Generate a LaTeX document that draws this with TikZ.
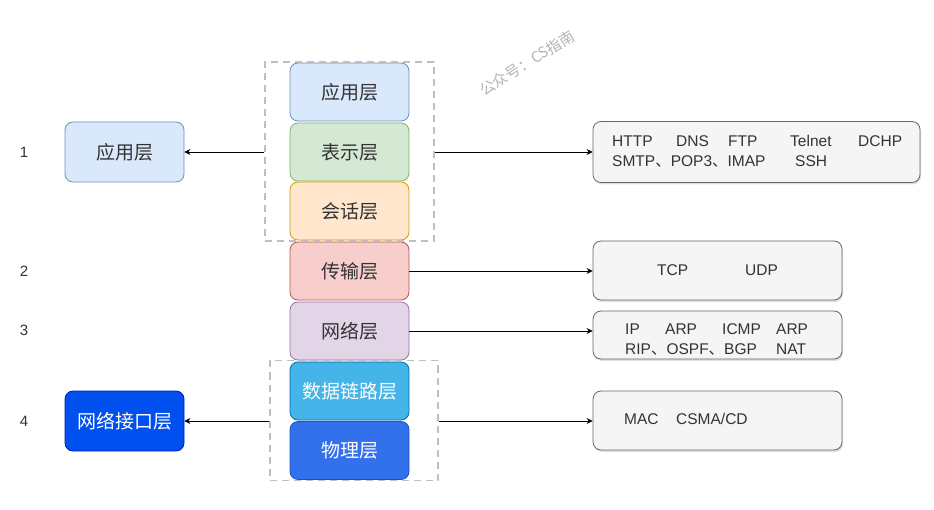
\documentclass[tikz,border=0pt]{standalone}
\usepackage{fontspec}
\setmainfont{Liberation Sans}
\newfontfamily\cjk{Noto Sans CJK SC}
\usetikzlibrary{arrows.meta,shadows}
\definecolor{txt}{HTML}{333333}
\definecolor{appF}{HTML}{DAE8FC}\definecolor{appD}{HTML}{6C8EBF}
\definecolor{preF}{HTML}{D5E8D4}\definecolor{preD}{HTML}{82B366}
\definecolor{sesF}{HTML}{FFE6CC}\definecolor{sesD}{HTML}{D79B00}
\definecolor{traF}{HTML}{F8CECC}\definecolor{traD}{HTML}{B85450}
\definecolor{netF}{HTML}{E1D5E7}\definecolor{netD}{HTML}{9673A6}
\definecolor{dlF}{HTML}{45B4E8}\definecolor{dlD}{HTML}{006EAF}
\definecolor{phyF}{HTML}{3270EC}\definecolor{phyD}{HTML}{1E50C8}
\definecolor{niF}{HTML}{0050EF}\definecolor{niD}{HTML}{001DBC}
\definecolor{prF}{HTML}{F5F5F5}\definecolor{prD}{HTML}{666666}
\tikzset{
  layer/.style={draw=#1, rounded corners=8pt, line width=0.8pt, minimum width=119pt, minimum height=58pt, inner sep=0pt, font=\cjk\fontsize{19}{21}\selectfont, text=txt},
  proto/.style={draw=prD, fill=prF, rounded corners=8pt, line width=0.8pt, inner sep=0pt, drop shadow={shadow xshift=1pt, shadow yshift=-2pt, opacity=0.25}},
  ptxt/.style={anchor=base west, inner sep=0pt, font=\fontsize{15.5}{17}\selectfont, text=txt},
  group/.style={draw=black!25, dash pattern=on 7pt off 5pt, line width=1.5pt},
  arr/.style={-{Stealth[length=6pt,width=6pt,inset=2pt]}, line width=0.7pt},
  num/.style={font=\fontsize{15}{17}\selectfont, inner sep=0pt, text=txt}
}
\begin{document}
\begin{tikzpicture}[x=1pt,y=-1pt]
\useasboundingbox (0,0) rectangle (934,510);
% middle stack
\node[layer=appD, fill=appF] (app) at (349.5,92) {应用层};
\node[layer=preD, fill=preF] (pres) at (349.5,152) {表示层};
\node[layer=sesD, fill=sesF] (sess) at (349.5,211) {会话层};
\node[layer=traD, fill=traF] (trans) at (349.5,271) {传输层};
\node[layer=netD, fill=netF] (net) at (349.5,331) {网络层};
\node[layer=dlD, fill=dlF, text=white] (dl) at (349.5,391) {数据链路层};
\node[layer=phyD, fill=phyF, text=white] (phy) at (349.5,450.5) {物理层};
% dashed groups
\node[group, minimum width=169pt, minimum height=179pt, inner sep=0pt] (g1) at (349.5,151.5) {};
\node[group, minimum width=168pt, minimum height=120pt, inner sep=0pt] (g2) at (354,420.5) {};
% left boxes
\node[layer=appD, fill=appF, minimum height=60pt] (lapp) at (124.5,152) {应用层};
\node[layer=niD, fill=niF, text=white, minimum height=60pt] (lnet) at (124.5,421) {网络接口层};
% numbers
\node[num] (n1) at (24,152) {1};
\node[num] (n2) at (24,271) {2};
\node[num] (n3) at (24,330) {3};
\node[num] (n4) at (24,421) {4};
% right boxes
\node[proto, minimum width=327pt, minimum height=61pt] (r1) at (756.5,152) {};
\node[proto, minimum width=249pt, minimum height=59pt] (r2) at (717.5,270.5) {};
\node[proto, minimum width=249pt, minimum height=48pt] (r3) at (717.5,335) {};
\node[proto, minimum width=249pt, minimum height=59pt] (r4) at (717.5,420.5) {};
% texts box 1
\node[ptxt] (t1a) at (612,146.5) {HTTP};
\node[ptxt] (t1b) at (676,146.5) {DNS};
\node[ptxt] (t1c) at (728,146.5) {FTP};
\node[ptxt] (t1d) at (790,146.5) {Telnet};
\node[ptxt] (t1e) at (858,146.5) {DCHP};
\node[ptxt] (t1f) at (612,166.5) {SMTP{\cjk 、}POP3{\cjk 、}IMAP};
\node[ptxt] (t1g) at (795,166.5) {SSH};
% box 2
\node[ptxt] (t2a) at (657,275.5) {TCP};
\node[ptxt] (t2b) at (745,275.5) {UDP};
% box 3
\node[ptxt] (t3a) at (625,334.5) {IP};
\node[ptxt] (t3b) at (665,334.5) {ARP};
\node[ptxt] (t3c) at (722,334.5) {ICMP};
\node[ptxt] (t3d) at (776,334.5) {ARP};
\node[ptxt] (t3e) at (625,354.5) {RIP{\cjk 、}OSPF{\cjk 、}BGP};
\node[ptxt] (t3f) at (776,354.5) {NAT};
% box 4
\node[ptxt] (t4a) at (624,424.5) {MAC};
\node[ptxt] (t4b) at (676,424.5) {CSMA/CD};
% arrows
\draw[arr] (g1.west |- lapp.east) -- (lapp.east);
\draw[arr] (g1.east |- r1.west) -- (r1.west);
\draw[arr] (trans.east) -- (r2.west |- trans.east);
\draw[arr] (net.east) -- (r3.west |- net.east);
\draw[arr] (g2.west |- lnet.east) -- (lnet.east);
\draw[arr] (g2.east |- lnet.east) -- (r4.west |- lnet.east);
% watermark
\node[rotate=32, text=black!30, font=\cjk\fontsize{15}{17}\selectfont] (wm) at (527,63) {公众号：CS指南};
\end{tikzpicture}
\end{document}
